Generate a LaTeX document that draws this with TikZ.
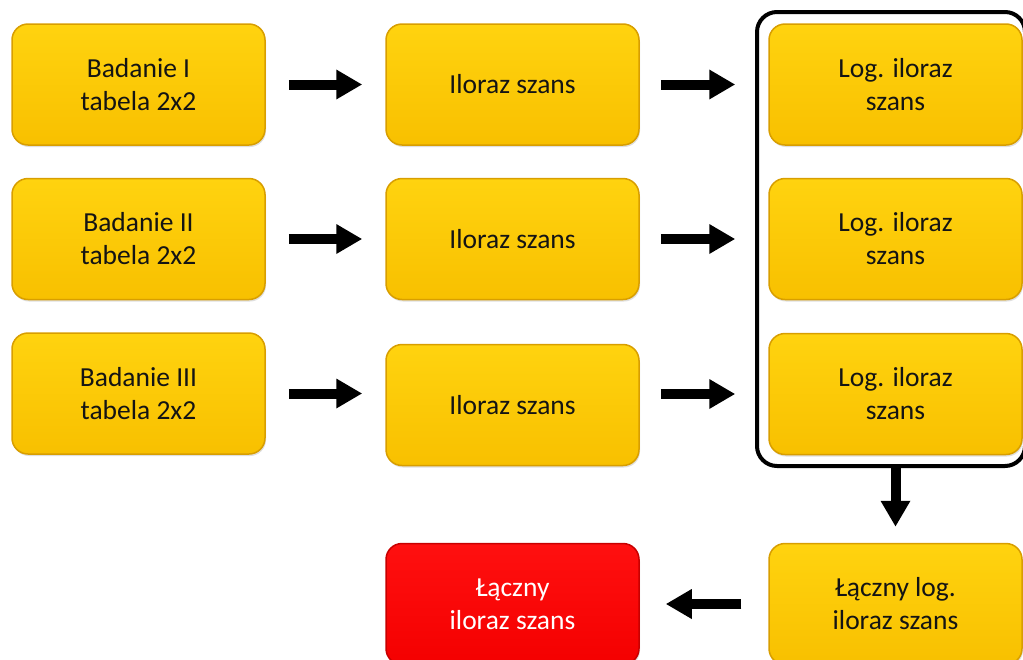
\documentclass[tikz,border=0pt]{standalone}
\usepackage{fontspec}
\setmainfont{Carlito}
\usetikzlibrary{arrows.meta,fit,shadows}
\definecolor{boxgold}{HTML}{FFCC00}
\definecolor{boxtop}{HTML}{FFD30F}
\definecolor{boxbot}{HTML}{F8C000}
\definecolor{boxedge}{HTML}{D89E00}
\definecolor{boxred}{HTML}{FF0000}
\definecolor{redtop}{HTML}{FF1010}
\definecolor{redbot}{HTML}{F40000}
\definecolor{rededge}{HTML}{C80000}
\definecolor{txt}{HTML}{141414}

\begin{document}
\begin{tikzpicture}[x=1pt, y=-1pt,
  box/.style={rectangle, rounded corners=16pt, minimum width=253pt, minimum height=121pt,
    inner sep=0pt, align=center, top color=boxtop, middle color=boxgold, bottom color=boxbot,
    draw=boxedge, line width=1.5pt, text=txt,
    font=\fontsize{27.5}{33}\selectfont,
    drop shadow={shadow xshift=1pt, shadow yshift=-2pt, opacity=.25}},
  redbox/.style={box, top color=redtop, middle color=boxred, bottom color=redbot, draw=rededge, text=white},
  arr/.style={-{Triangle[length=26pt, width=28pt]}, line width=10pt}]
\useasboundingbox (0,0) rectangle (1023,659);

\node[box] at (138.5, 84.5) (b1) {Badanie I\\tabela 2x2};
\node[box] at (138.5, 239) (b2) {Badanie II\\tabela 2x2};
\node[box] at (138.5, 393.5) (b3) {Badanie III\\tabela 2x2};

\node[box] at (512.5, 84.5) (m1) {Iloraz szans};
\node[box] at (512.5, 239) (m2) {Iloraz szans};
\node[box] at (512.5, 405) (m3) {Iloraz szans};

\node[box] at (895.5, 84.5) (r1) {Log. iloraz\\szans};
\node[box] at (895.5, 239) (r2) {Log. iloraz\\szans};
\node[box] at (895.5, 394) (r3) {Log. iloraz\\szans};

\coordinate (g1) at (757, 12);
\coordinate (g2) at (1025, 466);
\node[draw, line width=4pt, rounded corners=20pt, inner sep=0pt, fit=(g1)(g2)] (grp) {};

\node[box] at (895.5, 604) (rb) {Łączny log.\\iloraz szans};
\node[redbox] at (512.5, 604) (wynik) {Łączny\\iloraz szans};

\draw[arr, shorten <=23pt, shorten >=23pt] (b1) -- (b1 -| m1.west);
\draw[arr, shorten <=23pt, shorten >=23pt] (b2) -- (b2 -| m2.west);
\draw[arr, shorten <=23pt, shorten >=23pt] (b3) -- (b3 -| m3.west);

\draw[arr, shorten <=21pt, shorten >=33pt] (m1) -- (r1);
\draw[arr, shorten <=21pt, shorten >=33pt] (m2) -- (r2);
\draw[arr, shorten <=21pt, shorten >=33pt] (m3.east |- r3) -- (r3);

\draw[arr, shorten >=16pt] (grp.south -| rb) -- (rb.north);
\draw[arr, shorten <=27pt, shorten >=26pt] (rb) -- (wynik);
\end{tikzpicture}
\end{document}
